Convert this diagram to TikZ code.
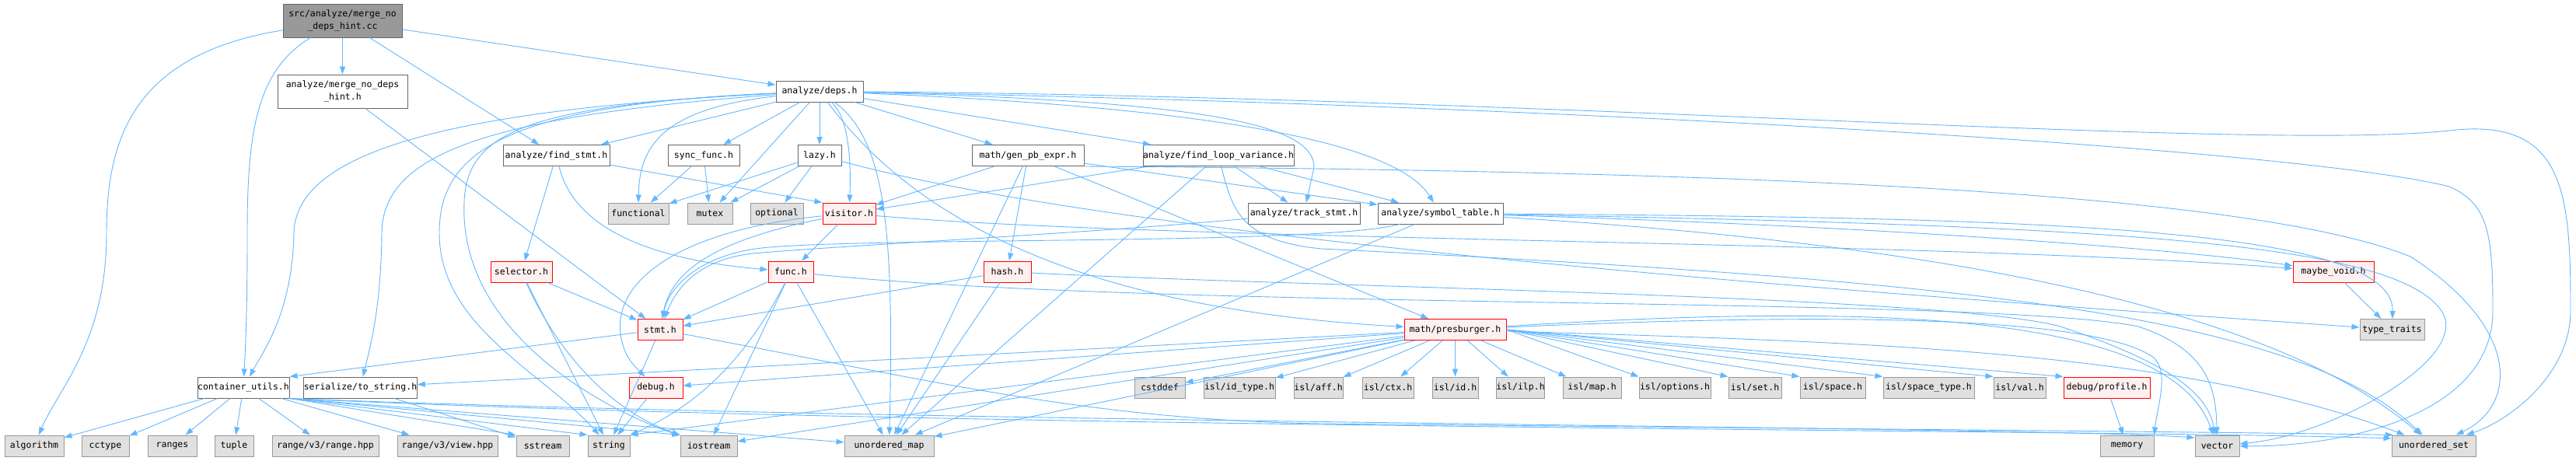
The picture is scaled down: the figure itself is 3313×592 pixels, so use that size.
\documentclass[tikz,border=0pt]{standalone}
\usepackage{fontspec}
\newfontfamily\filefont{DejaVu Sans Mono}
\usetikzlibrary{arrows.meta}
\definecolor{edgeblue}{HTML}{63B8FF}
\definecolor{hdrline}{HTML}{666666}
\definecolor{sysfill}{HTML}{E0E0E0}
\definecolor{sysline}{HTML}{999999}
\definecolor{redfill}{HTML}{FFF0F0}
\definecolor{mainfill}{HTML}{999999}
\begin{document}
\begin{tikzpicture}[x=1pt, y=-1pt,
    hdr/.style={draw=hdrline, fill=white, line width=1pt, inner sep=0pt, minimum height=27pt,
        font={\filefont\fontsize{11.5}{16}\selectfont}, align=center},
    syshdr/.style={hdr, draw=sysline, fill=sysfill},
    redhdr/.style={hdr, draw=red, fill=redfill},
    mainhdr/.style={hdr, fill=mainfill, minimum height=43pt},
    dep/.style={draw=edgeblue, line width=0.9pt, -{Triangle[length=10pt,width=7pt]}}]
    \fill[white] (0,0) rectangle (3313,592);
    \useasboundingbox (0,0) rectangle (3313,592);

    % Исходный файл и первый ряд
    \node[mainhdr, minimum width=153pt] (root) at (440.5,26.5) {src/analyze/merge\_no\\\_deps\_hint.cc};
    \node[hdr, minimum width=167pt, minimum height=43pt] (mndh) at (440.5,117.5) {analyze/merge\_no\_deps\\\_hint.h};
    \node[hdr, minimum width=112pt] (deps) at (1054,117.5) {analyze/deps.h};

    % Второй ряд
    \node[hdr, minimum width=137pt] (findstmt) at (715.5,200) {analyze/find\_stmt.h};
    \node[hdr, minimum width=92pt] (syncfunc) at (905,200) {sync\_func.h};
    \node[hdr, minimum width=56pt] (lazy) at (1054,200) {lazy.h};
    \node[hdr, minimum width=144pt] (genpb) at (1322,200) {math/gen\_pb\_expr.h};
    \node[hdr, minimum width=194pt] (flv) at (1567,200) {analyze/find\_loop\_variance.h};

    % Третий ряд
    \node[syshdr, minimum width=78pt] (functional) at (821,274.5) {functional};
    \node[syshdr, minimum width=58pt] (mutex) at (913,274.5) {mutex};
    \node[syshdr, minimum width=68pt] (optional) at (999,274.5) {optional};
    \node[redhdr, minimum width=68pt] (visitor) at (1092,274.5) {visitor.h};
    \node[hdr, minimum width=144pt] (track) at (1677,274.5) {analyze/track\_stmt.h};
    \node[hdr, minimum width=161pt] (symtab) at (1852.5,274.5) {analyze/symbol\_table.h};

    % Четвертый ряд
    \node[redhdr, minimum width=79pt] (selector) at (670.5,349.5) {selector.h};
    \node[redhdr, minimum width=58pt] (func) at (1017,349.5) {func.h};
    \node[redhdr, minimum width=61pt] (hash) at (1295.5,349.5) {hash.h};
    \node[redhdr, minimum width=104pt] (maybevoid) at (3001,349.5) {maybe\_void.h};

    % Пятый ряд
    \node[redhdr, minimum width=58pt] (stmt) at (849,424) {stmt.h};
    \node[redhdr, minimum width=131pt] (presburger) at (1871.5,424) {math/presburger.h};
    \node[syshdr, minimum width=83pt] (typetraits) at (3076.5,424) {type\_traits};

    % Шестой ряд
    \node[hdr, minimum width=118pt] (containerutils) at (313,498.5) {container\_utils.h};
    \node[hdr, minimum width=137pt] (tostring) at (463.5,498.5) {serialize/to\_string.h};
    \node[redhdr, minimum width=69pt] (debug) at (843.5,498.5) {debug.h};
    \node[syshdr, minimum width=65pt] (cstddef) at (1491.5,498.5) {cstddef};
    \node[syshdr, minimum width=92pt] (islidtype) at (1594,498.5) {isl/id\_type.h};
    \node[syshdr, minimum width=63pt] (islaff) at (1695.5,498.5) {isl/aff.h};
    \node[syshdr, minimum width=66pt] (islctx) at (1785,498.5) {isl/ctx.h};
    \node[syshdr, minimum width=59pt] (islid) at (1871.5,498.5) {isl/id.h};
    \node[syshdr, minimum width=61pt] (islilp) at (1955.5,498.5) {isl/ilp.h};
    \node[syshdr, minimum width=75pt] (islmap) at (2047.5,498.5) {isl/map.h};
    \node[syshdr, minimum width=92pt] (isloptions) at (2154,498.5) {isl/options.h};
    \node[syshdr, minimum width=68pt] (islset) at (2257,498.5) {isl/set.h};
    \node[syshdr, minimum width=84pt] (islspace) at (2357,498.5) {isl/space.h};
    \node[syshdr, minimum width=117pt] (islspacetype) at (2480.5,498.5) {isl/space\_type.h};
    \node[syshdr, minimum width=67pt] (islval) at (2597.5,498.5) {isl/val.h};
    \node[redhdr, minimum width=111pt] (profile) at (2709.5,498.5) {debug/profile.h};

    % Нижний ряд
    \node[syshdr, minimum width=76pt] (algorithm) at (44,573.5) {algorithm};
    \node[syshdr, minimum width=61pt] (cctype) at (135.5,573.5) {cctype};
    \node[syshdr, minimum width=63pt] (ranges) at (221.5,573.5) {ranges};
    \node[syshdr, minimum width=50pt] (tuple) at (301,573.5) {tuple};
    \node[syshdr, minimum width=137pt] (rangehpp) at (418.5,573.5) {range/v3/range.hpp};
    \node[syshdr, minimum width=129pt] (viewhpp) at (575.5,573.5) {range/v3/view.hpp};
    \node[syshdr, minimum width=68pt] (sstream) at (698,573.5) {sstream};
    \node[syshdr, minimum width=54pt] (string) at (783,573.5) {string};
    \node[syshdr, minimum width=73pt] (iostream) at (911.5,573.5) {iostream};
    \node[syshdr, minimum width=115pt] (umap) at (1143.5,573.5) {unordered\_map};
    \node[syshdr, minimum width=69pt] (memory) at (2735.5,573.5) {memory};
    \node[syshdr, minimum width=57pt] (vector) at (2851.5,573.5) {vector};
    \node[syshdr, minimum width=108pt] (uset) at (3130,573.5) {unordered\_set};

    % Связи исходного файла
    \draw[dep] (root) -- (mndh);
    \draw[dep] (root) -- (findstmt);
    \draw[dep] (root) -- (deps);
    \draw[dep] ([xshift=36pt]root.south west) .. controls (330,90) and (318,170) .. (318,300) .. controls (318,400) and (316,440) .. (containerutils);
    \draw[dep] (root) .. controls (170,70) and (137,180) .. (137,300) .. controls (137,440) and (75,500) .. (algorithm);
    \draw[dep] (mndh) -- (stmt);

    % Связи analyze/deps.h
    \draw[dep] (deps) -- (findstmt);
    \draw[dep] (deps) -- (syncfunc);
    \draw[dep] (deps) -- (lazy);
    \draw[dep] (deps) -- (mutex);
    \draw[dep] (deps) .. controls (850,140) and (822,190) .. (functional);
    \draw[dep] (deps) .. controls (1090,150) and (1095,200) .. (visitor);
    \draw[dep] (deps) -- (genpb);
    \draw[dep] (deps) -- (flv);
    \draw[dep] (deps) .. controls (1550,130) and (1690,160) .. (1690,215) -- (track);
    \draw[dep] (deps) .. controls (1600,140) and (1800,190) .. (symtab);
    \draw[dep] (deps) .. controls (1140,180) and (1150,300) .. (umap);
    \draw[dep] (deps) .. controls (1160,260) and (1350,395) .. (presburger);
    \draw[dep] (deps) .. controls (600,140) and (380,190) .. (378,300) .. controls (376,400) and (340,450) .. (containerutils);
    \draw[dep] (deps) .. controls (620,150) and (492,200) .. (491,300) .. controls (490,400) and (475,450) .. (tostring);
    \draw[dep] (deps) .. controls (640,135) and (565,200) .. (565,300) .. controls (565,420) and (700,480) .. (string);
    \draw[dep] (deps) .. controls (680,135) and (600,170) .. (597,260) .. controls (590,420) and (760,520) .. (iostream);
    \draw[dep] (deps) .. controls (2000,135) and (2950,190) .. (3150,240) .. controls (3200,262) and (3206,300) .. (3206,400) .. controls (3206,540) and (3000,575) .. (vector);
    \draw[dep] (deps) .. controls (2000,125) and (2900,195) .. (3150,168) .. controls (3300,150) and (3306,250) .. (3306,400) .. controls (3306,480) and (3230,540) .. (uset);

    % Второй ряд
    \draw[dep] (findstmt) -- (selector);
    \draw[dep] (findstmt) -- (visitor.north west);
    \draw[dep] (findstmt) .. controls (740,300) and (850,335) .. (func);
    \draw[dep] (syncfunc) -- (functional);
    \draw[dep] (syncfunc) -- (mutex);
    \draw[dep] (lazy) -- (functional);
    \draw[dep] (lazy) -- (mutex);
    \draw[dep] (lazy) -- (optional);
    \draw[dep] (lazy) .. controls (1500,320) and (2600,390) .. (typetraits);
    \draw[dep] (genpb) -- (visitor);
    \draw[dep] (genpb) -- (hash);
    \draw[dep] (genpb) -- (umap);
    \draw[dep] (genpb) -- (presburger);
    \draw[dep] (genpb) -- (symtab);
    \draw[dep] (genpb.south east) .. controls (2300,220) and (2900,250) .. (3100,330) .. controls (3240,420) and (3240,520) .. (uset);
    \draw[dep] (flv) -- (visitor);
    \draw[dep] (flv) -- (track);
    \draw[dep] (flv) -- (symtab);
    \draw[dep] (flv) -- (umap);
    \draw[dep] (flv) .. controls (1585,270) and (1595,310) .. (1700,320) .. controls (2500,360) and (2950,400) .. (uset);

    % Третий ряд
    \draw[dep] (track) .. controls (1400,300) and (1100,315) .. (980,325) .. controls (900,330) and (870,370) .. (stmt);
    \draw[dep] (symtab) .. controls (1700,315) and (1150,305) .. (990,318) .. controls (900,325) and (860,370) .. (stmt);
    \draw[dep] (symtab) -- (umap);
    \draw[dep] (symtab) .. controls (2400,290) and (2800,320) .. (maybevoid);
    \draw[dep] (symtab) .. controls (2600,280) and (3080,290) .. (typetraits);
    \draw[dep] (symtab) .. controls (2700,290) and (3080,310) .. (3140,400) .. controls (3180,460) and (3000,560) .. (vector);
    \draw[dep] (symtab) .. controls (2600,320) and (2950,420) .. (uset);
    \draw[dep] (visitor) -- (func);
    \draw[dep] (visitor) .. controls (940,305) and (865,340) .. (stmt);
    \draw[dep] (visitor) .. controls (880,295) and (780,360) .. (800,440) .. controls (805,460) and (815,470) .. (debug);
    \draw[dep] (visitor) .. controls (1500,310) and (2500,310) .. (maybevoid);

    % Четвертый ряд
    \draw[dep] (selector) -- (stmt);
    \draw[dep] (selector) -- (string);
    \draw[dep] (selector) .. controls (720,460) and (790,530) .. (iostream.north west);
    \draw[dep] (func) -- (stmt);
    \draw[dep] (func) .. controls (960,460) and (900,520) .. (string.north east);
    \draw[dep] (func) -- (iostream);
    \draw[dep] (func) -- (umap);
    \draw[dep] (func) .. controls (1500,400) and (2550,380) .. (2750,420) .. controls (2840,450) and (2850,500) .. (vector);
    \draw[dep] (hash) -- (stmt);
    \draw[dep] (hash) -- (umap);
    \draw[dep] (hash) .. controls (1700,370) and (2500,380) .. (2650,420) .. controls (2800,470) and (2840,510) .. (vector);
    \draw[dep] (maybevoid) -- (typetraits);

    % Пятый ряд
    \draw[dep] (stmt) -- (containerutils.north east);
    \draw[dep] (stmt) -- (string);
    \draw[dep] (stmt) .. controls (1200,490) and (1400,540) .. (1700,545) .. controls (2400,552) and (2900,556) .. (uset.165);
    \draw[dep] (presburger) -- (tostring);
    \draw[dep] (presburger) -- (debug);
    \draw[dep] (presburger) -- (string.north east);
    \draw[dep] (presburger) -- (iostream);
    \draw[dep] (presburger) -- (umap);
    \draw[dep] (presburger) -- (cstddef);
    \draw[dep] (presburger) -- (islidtype);
    \draw[dep] (presburger) -- (islaff);
    \draw[dep] (presburger) -- (islctx);
    \draw[dep] (presburger) -- (islid);
    \draw[dep] (presburger) -- (islilp);
    \draw[dep] (presburger) -- (islmap);
    \draw[dep] (presburger.east) -- (isloptions.north west);
    \draw[dep] (presburger.east) -- (islset.north west);
    \draw[dep] (presburger.east) -- (islspace.north west);
    \draw[dep] (presburger.east) -- (islspacetype.north west);
    \draw[dep] (presburger.east) -- (islval.north west);
    \draw[dep] (presburger.east) -- (profile.north west);
    \draw[dep] (presburger) .. controls (2400,400) and (2700,410) .. (2770,460) .. controls (2790,480) and (2775,520) .. (memory.north east);
    \draw[dep] (presburger) .. controls (2400,390) and (2790,400) .. (vector);
    \draw[dep] (presburger) .. controls (2400,440) and (2800,450) .. (uset);

    % Шестой ряд
    \draw[dep] (containerutils) -- (algorithm);
    \draw[dep] (containerutils) -- (cctype);
    \draw[dep] (containerutils) -- (ranges);
    \draw[dep] (containerutils) -- (tuple);
    \draw[dep] (containerutils) -- (rangehpp);
    \draw[dep] (containerutils) -- (viewhpp);
    \draw[dep] (containerutils.south east) -- (sstream.north west);
    \draw[dep] (containerutils.south east) -- (string.north west);
    \draw[dep] (containerutils.south east) -- (iostream.north west);
    \draw[dep] (containerutils.south east) -- (umap);
    \draw[dep] (containerutils.south east) .. controls (1200,545) and (2600,548) .. (vector.160);
    \draw[dep] (containerutils.south east) .. controls (1200,552) and (2700,552) .. (uset.170);
    \draw[dep] (tostring) -- (sstream);
    \draw[dep] (debug) -- (string);
    \draw[dep] (profile) -- (memory);
\end{tikzpicture}
\end{document}
